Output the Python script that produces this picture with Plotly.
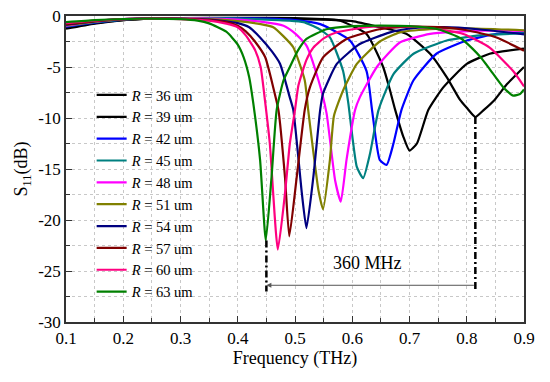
import plotly.graph_objects as go

labels = ["36", "39", "42", "45", "48", "51", "54", "57", "60", "63"]
colors = ["#000000", "#000000", "#0000FF", "#008080", "#FF00FF",
          "#808000", "#000080", "#800000", "#FF0080", "#008000"]

x_r36 = [0.10, 0.15, 0.20, 0.25, 0.30, 0.40, 0.50, 0.55, 0.60, 0.648, 0.695, 0.736, 0.765, 0.788, 0.80, 0.815, 0.83, 0.849, 0.87, 0.90]
y_r36 = [-1.25, -0.75, -0.4, -0.25, -0.2, -0.18, -0.2, -0.3, -0.5, -1.1, -1.76, -3.7, -6.0, -8.2, -9.0, -9.9, -9.2, -8.2, -6.7, -5.0]

x_r39 = [0.10, 0.15, 0.20, 0.25, 0.30, 0.40, 0.50, 0.55, 0.579, 0.625, 0.654, 0.666, 0.675, 0.689, 0.70, 0.713, 0.733, 0.759, 0.80, 0.84, 0.90]
y_r39 = [-1.15, -0.7, -0.4, -0.25, -0.2, -0.2, -0.3, -0.35, -0.46, -1.76, -5.0, -7.3, -9.2, -11.8, -13.2, -12.5, -9.2, -7.0, -4.7, -3.7, -3.2]

x_r42 = [0.10, 0.15, 0.20, 0.25, 0.30, 0.35, 0.40, 0.45, 0.50, 0.544, 0.596, 0.625, 0.635, 0.648, 0.66, 0.672, 0.686, 0.707, 0.747, 0.80, 0.852, 0.90]
y_r42 = [-1.05, -0.65, -0.35, -0.22, -0.2, -0.2, -0.22, -0.25, -0.4, -0.8, -2.4, -5.4, -9.4, -14.1, -14.6, -12.5, -9.2, -6.3, -3.7, -2.4, -1.76, -1.6]

x_r45 = [0.10, 0.15, 0.20, 0.25, 0.30, 0.35, 0.40, 0.45, 0.49, 0.515, 0.54, 0.561, 0.584, 0.593, 0.608, 0.619, 0.631, 0.646, 0.672, 0.707, 0.765, 0.823, 0.90]
y_r45 = [-1.0, -0.6, -0.35, -0.22, -0.2, -0.2, -0.25, -0.35, -0.45, -0.6, -1.2, -2.1, -5.4, -8.5, -14.8, -15.9, -13.5, -9.2, -5.7, -3.7, -2.4, -1.9, -1.7]

x_r48 = [0.10, 0.15, 0.20, 0.25, 0.30, 0.35, 0.40, 0.44, 0.48, 0.50, 0.52, 0.541, 0.555, 0.57, 0.58, 0.59, 0.605, 0.613, 0.643, 0.683, 0.736, 0.823, 0.90]
y_r48 = [-0.95, -0.55, -0.3, -0.22, -0.22, -0.25, -0.35, -0.55, -0.95, -1.7, -2.9, -6.3, -9.5, -16.1, -18.2, -14.1, -9.2, -8.0, -5.0, -2.6, -1.76, -1.44, -1.45]

x_r51 = [0.10, 0.15, 0.20, 0.25, 0.30, 0.35, 0.40, 0.44, 0.462, 0.48, 0.497, 0.517, 0.523, 0.541, 0.549, 0.561, 0.568, 0.584, 0.608, 0.648, 0.683, 0.736, 0.80, 0.90]
y_r51 = [-0.9, -0.55, -0.3, -0.25, -0.25, -0.3, -0.5, -0.8, -1.1, -2.0, -3.07, -6.3, -9.2, -17.1, -18.95, -14.1, -9.8, -7.3, -4.7, -2.5, -1.6, -1.3, -1.2, -1.4]

x_r54 = [0.10, 0.15, 0.20, 0.25, 0.30, 0.35, 0.40, 0.42, 0.439, 0.46, 0.474, 0.491, 0.497, 0.512, 0.52, 0.532, 0.544, 0.549, 0.573, 0.613, 0.666, 0.706, 0.76, 0.82, 0.90]
y_r54 = [-0.85, -0.5, -0.3, -0.25, -0.27, -0.35, -0.7, -1.1, -2.1, -3.5, -4.7, -8.0, -9.2, -17.4, -20.8, -15.8, -9.2, -7.6, -4.7, -2.75, -1.6, -1.2, -1.1, -1.3, -1.8]

x_r57 = [0.10, 0.15, 0.20, 0.25, 0.30, 0.35, 0.38, 0.40, 0.414, 0.43, 0.448, 0.462, 0.471, 0.4825, 0.49, 0.503, 0.517, 0.526, 0.549, 0.59, 0.648, 0.70, 0.75, 0.80, 0.852, 0.90]
y_r57 = [-0.8, -0.5, -0.3, -0.25, -0.28, -0.4, -0.6, -0.95, -1.5, -2.5, -4.05, -7.0, -9.2, -15.8, -21.6, -15.8, -9.2, -7.0, -4.05, -2.25, -1.3, -1.05, -1.1, -1.4, -2.1, -3.4]

x_r60 = [0.10, 0.15, 0.20, 0.25, 0.30, 0.35, 0.38, 0.40, 0.414, 0.43, 0.44, 0.448, 0.456, 0.47, 0.4825, 0.491, 0.50, 0.506, 0.52, 0.532, 0.55, 0.573, 0.625, 0.68, 0.73, 0.794, 0.84, 0.881, 0.90]
y_r60 = [-0.7, -0.45, -0.3, -0.25, -0.3, -0.45, -0.75, -1.1, -1.9, -3.3, -5.0, -8.5, -12.5, -22.9, -17.4, -12.5, -9.2, -6.8, -4.3, -3.1, -2.2, -1.6, -1.1, -1.0, -1.15, -1.76, -3.1, -5.4, -6.9]

x_r63 = [0.10, 0.15, 0.20, 0.25, 0.30, 0.33, 0.35, 0.38, 0.40, 0.41, 0.42, 0.427, 0.439, 0.449, 0.459, 0.468, 0.48, 0.491, 0.505, 0.52, 0.555, 0.60, 0.65, 0.70, 0.75, 0.79, 0.81, 0.825, 0.84, 0.864, 0.881, 0.893, 0.90]
y_r63 = [-0.6, -0.4, -0.3, -0.25, -0.3, -0.45, -0.72, -1.54, -2.8, -4.0, -6.0, -8.5, -14.1, -22.0, -15.8, -9.2, -6.3, -5.0, -3.4, -2.25, -1.3, -1.0, -0.95, -1.0, -1.3, -2.2, -3.2, -4.1, -5.2, -7.0, -7.8, -7.65, -7.2]

xs = [x_r36, x_r39, x_r42, x_r45, x_r48, x_r51, x_r54, x_r57, x_r60, x_r63]
ys = [y_r36, y_r39, y_r42, y_r45, y_r48, y_r51, y_r54, y_r57, y_r60, y_r63]

x_ticks = [0.1, 0.2, 0.3, 0.4, 0.5, 0.6, 0.7, 0.8, 0.9]
y_ticks = [-30, -25, -20, -15, -10, -5, 0]

f_low, f_high = 0.45, 0.815
dip_low, dip_high = -22.0, -9.9
span_label = "360 MHz"

FONT = "Liberation Serif, Times New Roman, serif"

fig = go.Figure()
for lab, col, xv, yv in zip(labels, colors, xs, ys):
    fig.add_trace(go.Scatter(x=xv, y=yv, mode="lines",
                             line=dict(color=col, width=2.2, shape="spline", smoothing=0.5),
                             name=f"<i>R</i> = {lab} um"))

dd = "7px,3px,2px,3px"
fig.add_shape(type="line", x0=f_low, x1=f_low, y0=dip_low, y1=-27.0,
              line=dict(color="black", width=2.5, dash=dd))
fig.add_shape(type="line", x0=f_high, x1=f_high, y0=dip_high, y1=-27.0,
              line=dict(color="black", width=2.5, dash=dd))
fig.add_annotation(x=f_low, y=-26.4, ax=f_high, ay=-26.4, xref="x", yref="y",
                   axref="x", ayref="y", text="", showarrow=True,
                   arrowhead=2, arrowsize=1, arrowwidth=1, arrowcolor="#555555")
fig.add_annotation(x=(f_low + f_high) / 2 - 0.005, y=-24.2, xref="x", yref="y",
                   text=span_label, showarrow=False,
                   font=dict(family=FONT, size=18, color="black"))

axis_common = dict(showline=True, linecolor="#333333", linewidth=1.5, mirror=True,
                   ticks="inside", ticklen=6, tickcolor="#333333", tickwidth=1.2,
                   showgrid=True, gridcolor="#C8C8C8", griddash="dot", gridwidth=1,
                   zeroline=False, automargin=False,
                   tickfont=dict(family=FONT, size=17, color="black"))

fig.update_xaxes(range=[0.1, 0.9], tickvals=x_ticks, ticktext=[f"{v:.1f}" for v in x_ticks],
                 minor=dict(dtick=0.05, tick0=0.1, ticks="inside", ticklen=4, showgrid=True,
                            gridcolor="#C8C8C8", griddash="dot", tickcolor="#333333"),
                 title=dict(text="Frequency (THz)", font=dict(family=FONT, size=18, color="black"),
                            standoff=4),
                 **axis_common)
fig.update_yaxes(range=[-30, 0], tickvals=y_ticks, ticktext=[str(v) for v in y_ticks],
                 minor=dict(dtick=2.5, tick0=0, ticks="inside", ticklen=4, showgrid=True,
                            gridcolor="#C8C8C8", griddash="dot", tickcolor="#333333"),
                 title=dict(text="S<sub>11</sub>(dB)", font=dict(family=FONT, size=18, color="black"),
                            standoff=6),
                 **axis_common)

fig.update_layout(width=550, height=382,
                  margin=dict(l=66, r=26, t=16, b=60),
                  paper_bgcolor="white", plot_bgcolor="white",
                  font=dict(family=FONT, color="black"),
                  legend=dict(x=0.056, y=0.794, xanchor="left", yanchor="top",
                              bgcolor="rgba(0,0,0,0)", borderwidth=0,
                              font=dict(family=FONT, size=14.5, color="black"),
                              tracegroupgap=0, itemwidth=30))

fig.write_html("out.html", config={"displayModeBar": False})

# remove the browser's default page margin so the figure sits at the window's corner
with open("out.html", "r", encoding="utf-8") as fh:
    html = fh.read()
html = html.replace("<body>", '<body style="margin:0;padding:0;">', 1)
with open("out.html", "w", encoding="utf-8") as fh:
    fh.write(html)
